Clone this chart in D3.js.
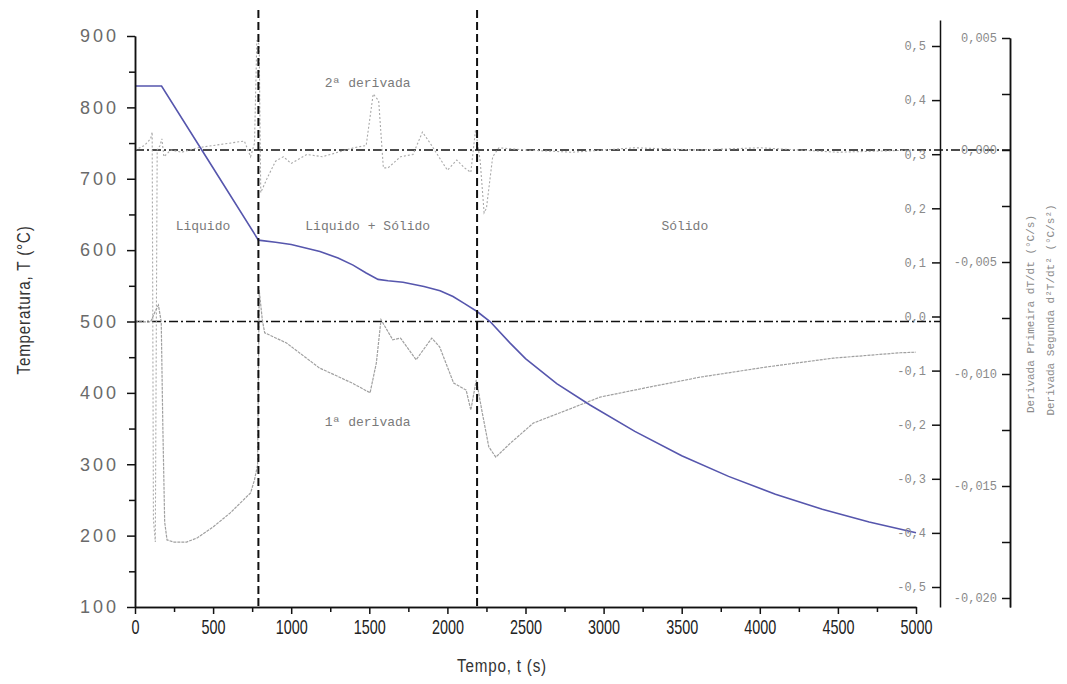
<!DOCTYPE html>
<html>
<head>
<meta charset="utf-8">
<script src="https://cdn.jsdelivr.net/npm/d3@7"></script>
<style>
  body { margin: 0; background: #fff; }
  .axis path, .axis line { stroke: #111; stroke-width: 1.5; }
  .ticklab-left text { font-family: "Liberation Sans", sans-serif; font-size: 18px; fill: #6a6a6a; letter-spacing: 3px; }
  .ticklab-bottom text { font-family: "Liberation Sans", sans-serif; font-size: 20px; fill: #222; }
  .ticklab-right text { font-family: "Liberation Mono", monospace; font-size: 12px; fill: #8a8a8a; }
  .region { font-family: "Liberation Mono", monospace; font-size: 13px; fill: #7a7a7a; }
</style>
</head>
<body>
<svg id="chart" width="1067" height="684"></svg>
<script>
// temperature curve (time in s, T in degC)
var tempTime = [0, 170, 480, 790, 900, 1000, 1184, 1300, 1396, 1480, 1556, 1620, 1716, 1850, 1953, 2036, 2110, 2190, 2273, 2400, 2500, 2700, 2913, 3200, 3500, 3800, 4100, 4400, 4700, 5000];
var tempVal  = [830, 830, 722, 614, 611, 608, 598, 589, 579, 568, 559, 557, 555, 549, 543, 535, 525, 514, 500, 470, 448, 413, 383, 346, 312, 283, 258, 237, 219, 204];

// first derivative dT/dt (degC/s)
var d1Time = [0, 100, 130, 150, 168, 178, 190, 205, 250, 330, 400, 500, 610, 740, 765, 785, 795, 815, 830, 970, 1180, 1390, 1505, 1545, 1575, 1650, 1700, 1800, 1900, 1950, 2040, 2120, 2150, 2185, 2220, 2265, 2310, 2400, 2550, 2765, 2977, 3300, 3620, 4050, 4470, 4900, 5000];
var d1Val  = [-0.01, -0.01, 0.01, 0.021, -0.01, -0.2, -0.38, -0.413, -0.417, -0.417, -0.409, -0.389, -0.363, -0.326, -0.302, -0.274, 0.049, -0.006, -0.03, -0.049, -0.095, -0.123, -0.141, -0.086, -0.006, -0.043, -0.04, -0.08, -0.04, -0.056, -0.123, -0.136, -0.173, -0.117, -0.173, -0.241, -0.26, -0.235, -0.197, -0.173, -0.149, -0.13, -0.112, -0.093, -0.077, -0.067, -0.066];

// second derivative d2T/dt2 (degC/s2)
var d2Time = [0, 60, 100, 110, 118, 130, 142, 160, 172, 185, 230, 300, 400, 500, 600, 700, 740, 765, 780, 795, 805, 850, 900, 950, 1000, 1100, 1200, 1300, 1400, 1480, 1525, 1560, 1590, 1620, 1700, 1780, 1840, 1890, 2000, 2060, 2110, 2150, 2180, 2210, 2235, 2250, 2290, 2330, 2500, 2800, 3200, 3600, 4000, 4500, 5000];
var d2Val  = [0, 0.0002, 0.0005, 0.0008, -0.0165, -0.0175, 0, 0.0002, 0.0005, -0.0003, 0, -0.0001, 0.0001, 0.0002, 0.0003, 0.0004, -0.0003, 0.0003, 0.0049, 0.0047, -0.0019, -0.0012, -0.0005, -0.0003, -0.0006, -0.0002, -0.0003, -0.0001, 0.0001, 0.0002, 0.0025, 0.0022, -0.0008, -0.0008, -0.0003, -0.0002, 0.0008, 0.0003, -0.0009, -0.00045, -0.0008, -0.001, 0.0009, -0.0005, -0.0028, -0.0026, -0.0003, 0.0001, 0, -0.0001, 0.0001, 0, 0.0001, -0.0001, 0];

// phase boundaries (s)
var boundaries = [790, 2190];

// tick values
var timeTicks = [0, 500, 1000, 1500, 2000, 2500, 3000, 3500, 4000, 4500, 5000];
var tempTicks = [100, 200, 300, 400, 500, 600, 700, 800, 900];
var d1Ticks = [0.5, 0.4, 0.3, 0.2, 0.1, 0.0, -0.1, -0.2, -0.3, -0.4, -0.5];
var d2Ticks = [0.005, 0.0, -0.005, -0.01, -0.015, -0.02];

var svg = d3.select("#chart");

var plotL = 135, plotR = 916, plotT = 36, plotB = 607;

var x = d3.scaleLinear().domain([0, 5000]).range([plotL, plotR]);
var yT = d3.scaleLinear().domain([100, 900]).range([plotB, plotT]);

// first derivative axis, extended so its line runs from y=20 to the bottom
var yD1 = d3.scaleLinear().domain([-0.5, 0.5]).range([587, 46]);
yD1.domain([yD1.invert(plotB), yD1.invert(20)]).range([plotB, 20]);

var yD2 = d3.scaleLinear().domain([-0.02, 0.005]).range([598, 38]);
yD2.domain([yD2.invert(plotB), 0.005]).range([plotB, 38]);

function commaFmt(f) {
  return function(d) { return d3.format(f)(d).replace(".", ",").replace("\u2212", "-"); };
}

// dash-dot reference lines
svg.append("line")
  .attr("x1", plotL).attr("x2", 940)
  .attr("y1", yT(500)).attr("y2", yT(500))
  .attr("stroke", "#111").attr("stroke-width", 1.7)
  .attr("stroke-dasharray", "9,3,2,3");
svg.append("line")
  .attr("x1", plotL).attr("x2", 1010)
  .attr("y1", yD2(0)).attr("y2", yD2(0))
  .attr("stroke", "#111").attr("stroke-width", 1.7)
  .attr("stroke-dasharray", "9,3,2,3");

// curves
var d2Line = d3.line()
  .x(function(d, i) { return x(d2Time[i]); })
  .y(function(d) { return yD2(d); });
svg.append("path")
  .attr("d", d2Line(d2Val))
  .attr("fill", "none")
  .attr("stroke", "#a9a9a9")
  .attr("stroke-width", 1.1)
  .attr("stroke-dasharray", "2,2");

var d1Line = d3.line()
  .x(function(d, i) { return x(d1Time[i]); })
  .y(function(d) { return yD1(d); });
svg.append("path")
  .attr("d", d1Line(d1Val))
  .attr("fill", "none")
  .attr("stroke", "#a0a0a0")
  .attr("stroke-width", 1.2)
  .attr("stroke-dasharray", "3,1");

var tLine = d3.line()
  .x(function(d, i) { return x(tempTime[i]); })
  .y(function(d) { return yT(d); });
svg.append("path")
  .attr("d", tLine(tempVal))
  .attr("fill", "none")
  .attr("stroke", "#5656ad")
  .attr("stroke-width", 1.6);

// vertical dashed boundaries
svg.selectAll(".bound")
  .data(boundaries)
  .enter()
  .append("line")
  .attr("class", "bound")
  .attr("x1", function(d) { return x(d); })
  .attr("x2", function(d) { return x(d); })
  .attr("y1", 10).attr("y2", plotB)
  .attr("stroke", "#111").attr("stroke-width", 2)
  .attr("stroke-dasharray", "8,4");

// left axis
svg.append("g")
  .attr("class", "axis ticklab-left")
  .attr("transform", "translate(" + plotL + ",0)")
  .call(d3.axisLeft(yT).tickValues(tempTicks).tickSize(8).tickPadding(8).tickSizeOuter(0));
svg.append("g")
  .attr("class", "axis")
  .attr("transform", "translate(" + plotL + ",0)")
  .call(d3.axisLeft(yT).tickValues(tempTicks.slice(0, -1).map(function(d) { return d + 50; }))
    .tickSize(6).tickFormat("").tickSizeOuter(0));

// bottom axis
var gx = svg.append("g")
  .attr("class", "axis ticklab-bottom")
  .attr("transform", "translate(0," + plotB + ")")
  .call(d3.axisBottom(x).tickValues(timeTicks).tickSize(7).tickPadding(6).tickSizeOuter(0).tickFormat(d3.format("d")));
gx.selectAll("text").attr("transform", "scale(0.72,1)");
svg.append("g")
  .attr("class", "axis")
  .attr("transform", "translate(0," + plotB + ")")
  .call(d3.axisBottom(x).tickValues(timeTicks.slice(0, -1).map(function(d) { return d + 250; }))
    .tickSize(5).tickFormat("").tickSizeOuter(0));

// first derivative axis
svg.append("g")
  .attr("class", "axis ticklab-right")
  .attr("transform", "translate(940,0)")
  .call(d3.axisLeft(yD1).tickValues(d1Ticks).tickSize(8).tickPadding(6).tickSizeOuter(0).tickFormat(commaFmt(".1f")));

// second derivative axis
svg.append("g")
  .attr("class", "axis ticklab-right")
  .attr("transform", "translate(1010,0)")
  .call(d3.axisLeft(yD2).tickValues(d2Ticks).tickSize(8).tickPadding(5).tickSizeOuter(0).tickFormat(commaFmt(".3f")));
svg.append("g")
  .attr("class", "axis")
  .attr("transform", "translate(1010,0)")
  .call(d3.axisLeft(yD2).tickValues(d2Ticks.slice(1).map(function(d) { return d + 0.0025; }))
    .tickSize(8).tickFormat("").tickSizeOuter(0));

// axis titles
svg.append("text")
  .attr("transform", "translate(30,300) rotate(-90) scale(0.8,1)")
  .attr("text-anchor", "middle")
  .style("font-family", "Liberation Sans, sans-serif")
  .style("font-size", "19px")
  .style("letter-spacing", "1px")
  .style("fill", "#333")
  .text("Temperatura, T (\u00b0C)");

svg.append("text")
  .attr("transform", "translate(502,672) scale(0.8,1)")
  .attr("text-anchor", "middle")
  .style("font-family", "Liberation Sans, sans-serif")
  .style("font-size", "19px")
  .style("letter-spacing", "1px")
  .style("fill", "#333")
  .text("Tempo, t (s)");

svg.append("text")
  .attr("transform", "translate(1034,314) rotate(-90)")
  .attr("text-anchor", "middle")
  .style("font-family", "Liberation Mono, monospace")
  .style("font-size", "11px")
  .style("fill", "#8a8a8a")
  .text("Derivada Primeira dT/dt (\u00b0C/s)");

svg.append("text")
  .attr("transform", "translate(1054,310) rotate(-90)")
  .attr("text-anchor", "middle")
  .style("font-family", "Liberation Mono, monospace")
  .style("font-size", "11px")
  .style("fill", "#8a8a8a")
  .text("Derivada Segunda d\u00b2T/dt\u00b2 (\u00b0C/s\u00b2)");

// region and curve annotations
var notes = [
  {t: 435, T: 628, s: "Liquido"},
  {t: 1490, T: 628, s: "Liquido + S\u00f3lido"},
  {t: 3520, T: 628, s: "S\u00f3lido"},
  {t: 1490, T: 829, s: "2\u00aa derivada"},
  {t: 1490, T: 354, s: "1\u00aa derivada"}
];
svg.selectAll(".region")
  .data(notes)
  .enter()
  .append("text")
  .attr("class", "region")
  .attr("x", function(d) { return x(d.t); })
  .attr("y", function(d) { return yT(d.T); })
  .attr("text-anchor", "middle")
  .text(function(d) { return d.s; });
</script>
</body>
</html>
